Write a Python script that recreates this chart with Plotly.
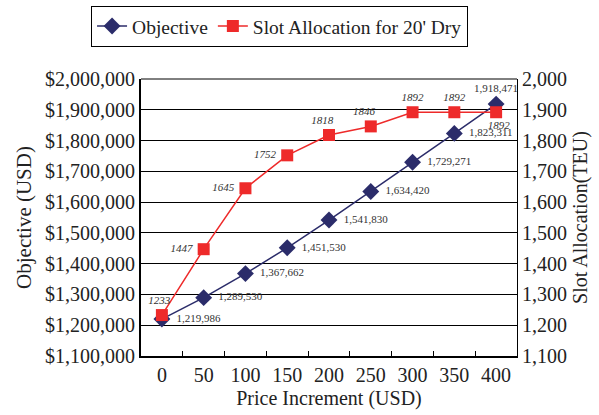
import plotly.graph_objects as go

price_increment = [0, 50, 100, 150, 200, 250, 300, 350, 400]
objective = [1219986, 1289530, 1367662, 1451530, 1541830, 1634420, 1729271, 1823311, 1918471]
slot_allocation = [1233, 1447, 1645, 1752, 1818, 1846, 1892, 1892, 1892]

obj_pos = ["middle right"] * 8 + ["top center"]
slot_pos = ["top center", "middle left", "middle left", "middle left", "top center",
            "top center", "top center", "top center", "bottom center"]
NB = "\u00a0"
slot_tmpl = [f"<i>%{{text}}</i>{NB * 2}", f"<i>%{{text}}</i>{NB}", f"<i>%{{text}}</i>{NB}",
             f"<i>%{{text}}</i>{NB}", f"<i>%{{text}}</i>{NB * 5}", f"<i>%{{text}}</i>{NB * 5}",
             "<i>%{text}</i>", "<i>%{text}</i>", f"{NB * 2}<i>%{{text}}</i>"]
obj_tmpl = [f"{NB * 2}%{{text}}"] * 8 + ["%{text}"]

FONT = "Liberation Serif"
NAVY = "#2b2c6a"
RED = "#ee2a2a"

fig = go.Figure()
fig.add_trace(go.Scatter(
    x=price_increment, y=objective, name="Objective", mode="lines+markers+text",
    line=dict(color=NAVY, width=1.5),
    marker=dict(symbol="diamond", size=13, color=NAVY),
    text=[f"{v:,}" for v in objective],
    texttemplate=obj_tmpl,
    textposition=obj_pos,
    textfont=dict(family=FONT, size=11, color="#333333"),
    cliponaxis=False,
))
fig.add_trace(go.Scatter(
    x=price_increment, y=slot_allocation, name="Slot Allocation for 20' Dry",
    mode="lines+markers+text", yaxis="y2",
    line=dict(color=RED, width=1.5),
    marker=dict(symbol="square", size=12, color=RED),
    text=[str(v) for v in slot_allocation],
    texttemplate=slot_tmpl,
    textposition=slot_pos,
    textfont=dict(family=FONT, size=11, color="#333333"),
    cliponaxis=False,
))

fig.update_layout(
    width=599, height=415,
    margin=dict(l=141, r=82, t=79, b=59),
    paper_bgcolor="white", plot_bgcolor="white",
    font=dict(family=FONT, size=20, color="#222222"),
    showlegend=True,
    legend=dict(orientation="h", xref="container", yref="container",
                x=0.152, xanchor="left", y=0.986, yanchor="top",
                bordercolor="black", borderwidth=1, font=dict(size=19.5),
                traceorder="normal"),
    xaxis=dict(range=[-25, 425], tickvals=price_increment, ticks="", automargin=False,
               showgrid=False, zeroline=False, showline=True, linecolor="black", linewidth=2,
               minor=dict(tickvals=[25, 75, 125, 175, 225, 275, 325, 375], ticks="inside",
                          ticklen=5, tickcolor="black", showgrid=False),
               title=dict(text="Price Increment (USD)", font=dict(size=20), standoff=6),
               tickfont=dict(size=20)),
    yaxis=dict(range=[1100000, 2000000], dtick=100000, tickprefix="$", tickformat=",",
               showgrid=True, gridcolor="black", gridwidth=1, zeroline=False, automargin=False,
               showline=True, linecolor="black", linewidth=2, ticks="",
               title=dict(text="Objective (USD)", font=dict(size=21), standoff=8),
               tickfont=dict(size=20)),
    yaxis2=dict(range=[1100, 2000], dtick=100, tickformat=",", overlaying="y", side="right",
                showgrid=False, zeroline=False, showline=True, linecolor="black", linewidth=1,
                ticks="", automargin=False,
                title=dict(text="Slot Allocation(TEU)", font=dict(size=20), standoff=6),
                tickfont=dict(size=20)),
    shapes=[dict(type="line", xref="paper", yref="paper", x0=0, x1=1, y0=1, y1=1,
                 line=dict(color="black", width=1))],
)

fig.write_html("out.html", config={"displayModeBar": False},
               post_script="document.body.style.margin='0';")
